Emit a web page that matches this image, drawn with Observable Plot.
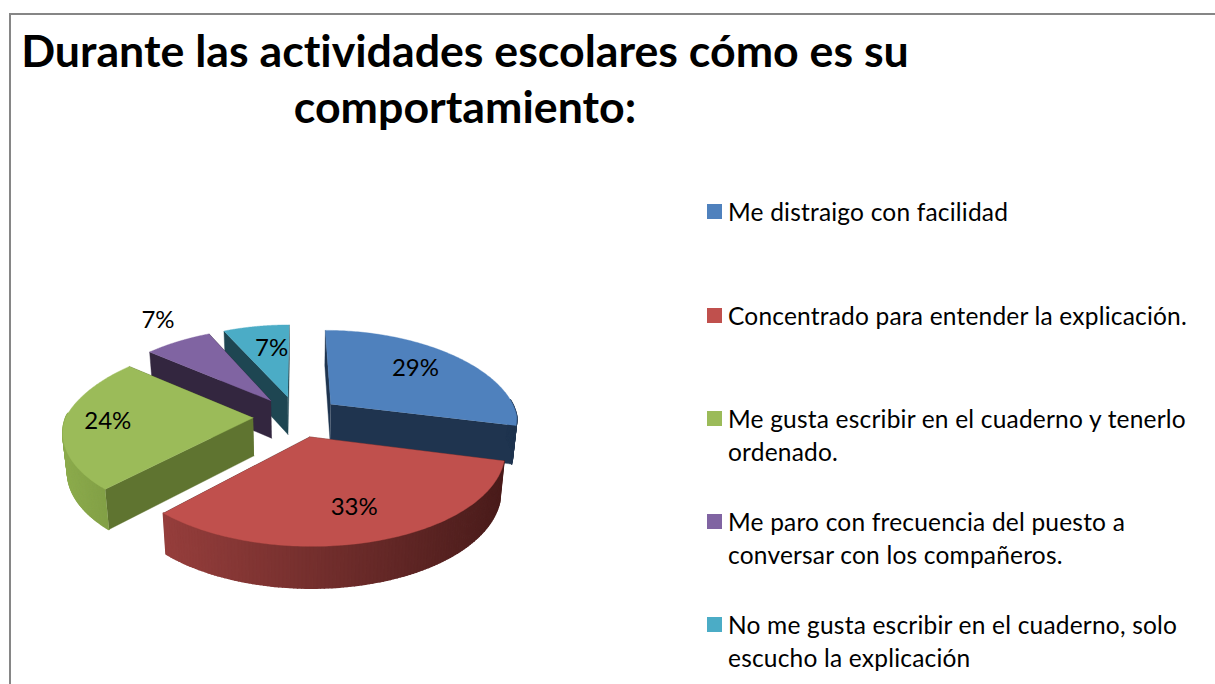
<!DOCTYPE html>
<html lang="es">
<head>
<meta charset="utf-8">
<script src="https://cdn.jsdelivr.net/npm/d3@7"></script>
<script src="https://cdn.jsdelivr.net/npm/@observablehq/plot@0.6"></script>
<style>
html,body{margin:0;padding:0;background:#fff;overflow:hidden}
#page{position:relative;width:1215px;height:684px;overflow:hidden;font-family:Lato,"Open Sans",sans-serif;color:#000;font-variant-ligatures:none}
#frame{position:absolute;left:9px;top:13px;width:1300px;height:800px;border-left:2px solid #868686;border-top:2px solid #868686}
#title{position:absolute;left:0;top:22px;width:930px;margin:0;text-align:center;font-size:44.7px;line-height:56px;font-weight:700}
#plot{position:absolute;left:0;top:160px}
#legend{position:absolute;left:0;top:0;width:1215px;height:684px;margin:0;padding:0;list-style:none}
#legend li{position:absolute;left:728px;width:468px;font-size:24.5px;letter-spacing:.2px;line-height:33px}
#legend i{position:absolute;left:-21px;top:9px;width:15px;height:15px}
</style>
</head>
<body>
<div id="page">
<div id="frame"></div>
<h1 id="title"></h1>
<div id="plot"></div>
<ul id="legend"></ul>
</div>
<script>
const titleLines = ["Durante las actividades escolares cómo es su", "comportamiento:"];
const categories = [
  "Me distraigo con facilidad",
  "Concentrado para entender la explicación.",
  "Me gusta escribir en el cuaderno y tenerlo ordenado.",
  "Me paro con frecuencia del puesto a conversar con los compañeros.",
  "No me gusta escribir en el cuaderno, solo escucho la explicación"
];
const values = [29, 33, 24, 7, 7];
const labels = ["29%", "33%", "24%", "7%", "7%"];
const topColors = ["#4f81bd", "#c0504d", "#9bbb59", "#8064a2", "#4bacc6"];
const faceColors = ["#1f344f", "#4b1e1d", "#5f7430", "#33263f", "#1e4652"];
const wallLeft = ["#1f344f", "#963e3c", "#8cab4d", "#33263f", "#1e4652"];
const wallRight = ["#1f344f", "#4a1c1b", "#7d9a42", "#33263f", "#1e4652"];
const labelReach = [0.635, 0.72, 0.775, 1.165, 0.665];
const labelDx = [2, 0, 1, -7, 6];
const labelDy = [-5, -1, -1, -13, 0];
const legendTops = [195, 299, 402, 505, 608];

// layout of the pie
const W = 700, H = 524;
const cx = 296.5, cy = 416 - 160, R = 187, ry = 87.5;
const perspective = 0.142, perspectiveBack = 0.195, perspectiveFront = 0.14;
const explode = 0.235, depth = 38 / ry, shrink = 0.98;

const project = (X, Y, down) => {
  const s = 1 / (1 + perspective * Y);
  const sx = 1 / (1 + (Y > 0 ? perspectiveBack : perspectiveFront) * Y);
  return {x: X * sx * (down ? shrink : 1), y: Y * s - (down ? depth * Math.sqrt(s) : 0)};
};

const arcs = d3.pie().sort(null).value(d => d)(values);
const marks = [];
const poly = (id, color, pts) => pts.map(p => ({id, color, ...p}));
const layer = (rows, strokeWidth) => marks.push(
  Plot.line(rows, {x: "x", y: "y", z: "id", fill: "color", stroke: "color", strokeWidth})
);

// paint slices back to front
[4, 3, 2, 0, 1].forEach(i => {
  const a = arcs[i], mid = (a.startAngle + a.endAngle) / 2;
  const ax = Math.sin(mid) * explode, ay = Math.cos(mid) * explode;
  const rim = (t, down) => project(ax + Math.sin(t), ay + Math.cos(t), down);
  const apex = down => project(ax, ay, down);
  const steps = d3.range(0, 121).map(k => a.startAngle + (a.endAngle - a.startAngle) * k / 120);
  layer([
    ...poly(`end${i}`, faceColors[i], [apex(false), rim(a.endAngle, false), rim(a.endAngle, true), apex(true)]),
    ...poly(`start${i}`, faceColors[i], [apex(false), rim(a.startAngle, false), rim(a.startAngle, true), apex(true)])
  ], 0.4);
  const shade = d3.interpolateRgb(wallLeft[i], wallRight[i]);
  const [minX, maxX] = d3.extent(steps, t => rim(t, false).x);
  const wall = [];
  d3.pairs(steps).forEach(([t0, t1], k) => {
    if (Math.cos((t0 + t1) / 2) > 0.05) return;
    const u = (rim(t0, false).x - minX) / (maxX - minX || 1);
    wall.push(...poly(`wall${i}-${k}`, shade(u), [rim(t0, false), rim(t1, false), rim(t1, true), rim(t0, true)]));
  });
  if (wall.length) layer(wall, 1.6);
  layer(poly(`top${i}`, topColors[i], [apex(false), ...steps.map(t => rim(t, false))]), 0.4);
});

const labelRows = arcs.map((a, i) => {
  const mid = (a.startAngle + a.endAngle) / 2, r = explode + labelReach[i];
  return {label: labels[i], dx: labelDx[i], dy: labelDy[i], ...project(Math.sin(mid) * r, Math.cos(mid) * r, false)};
});

labelRows.forEach(d => marks.push(
  Plot.text([d], {x: "x", y: "y", text: "label", dx: d.dx, dy: d.dy, fontSize: 24, fill: "#000", fontFamily: "Lato, sans-serif"})
));

const chart = Plot.plot({
  width: W, height: H, margin: 0,
  x: {domain: [-1, 1], range: [cx - R, cx + R], axis: null},
  y: {domain: [-1, 1], range: [cy + ry, cy - ry], axis: null},
  color: {type: "identity"},
  style: {background: "transparent", overflow: "visible"},
  marks
});
document.getElementById("plot").append(chart);

document.getElementById("title").innerHTML = titleLines.join("<br>");
const legend = d3.select("#legend");
categories.forEach((c, i) => {
  const li = legend.append("li").style("top", legendTops[i] + "px").text(c);
  li.append("i").style("background", topColors[i]);
});
</script>
</body>
</html>
